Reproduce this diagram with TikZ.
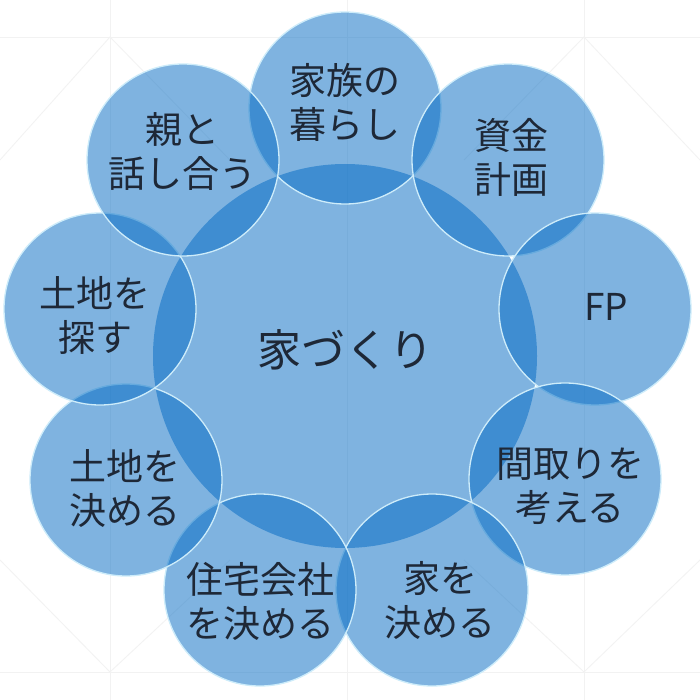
\documentclass[tikz,border=0pt]{standalone}
\usepackage{fontspec}
\setmainfont{Noto Sans CJK JP}
\begin{document}
\begin{tikzpicture}[x=1pt,y=-1pt,
  bub/.style={circle, inner sep=0pt, minimum size=192pt,
    fill={rgb,255:red,0;green,105;blue,195}, fill opacity=0.5,
    draw={rgb,255:red,205;green,236;blue,250}, line width=1.3pt,
    text={rgb,255:red,30;green,40;blue,55}, text opacity=1,
    font=\fontsize{37}{44}\selectfont, align=center},
  hub/.style={circle, inner sep=0pt, minimum size=384pt,
    fill={rgb,255:red,0;green,105;blue,195}, fill opacity=0.5,
    text={rgb,255:red,30;green,40;blue,55}, text opacity=1,
    font=\fontsize{44}{50}\selectfont},
  bg/.style={draw=black!5, line width=0.8pt}]
\useasboundingbox (0,0) rectangle (700,700);
\fill[white] (0,0) rectangle (700,700);
% faint background grid
\draw[bg] (110,0) -- (110,700);
\draw[bg] (347,0) -- (347,700);
\draw[bg] (584,0) -- (584,700);
\draw[bg] (0,37) -- (700,37);
\draw[bg] (0,672) -- (700,672);
\draw[bg] (0,160) -- (110,37) -- (230,160);
\draw[bg] (464,160) -- (584,37) -- (700,160);
\draw[bg] (0,560) -- (110,672) -- (230,560);
\draw[bg] (464,560) -- (584,672) -- (700,560);
% hub
\node[hub] (hub) at (345,356) {};
% outer bubbles
\node[bub] (kazoku) at (345,108) {};
\node[bub] (shikin) at (508,160) {};
\node[bub] (fp)     at (595,309) {};
\node[bub] (madori) at (565,479) {};
\node[bub] (ie)     at (432,590) {};
\node[bub] (jutaku) at (260,590) {};
\node[bub] (tkime)  at (126,480) {};
\node[bub] (tsaga)  at (100,309) {};
\node[bub] (oya)    at (183,160) {};
% texts
\tikzset{lbl/.style={text={rgb,255:red,30;green,40;blue,55}, font=\fontsize{37}{44}\selectfont, align=center, inner sep=0pt}}
\node[lbl,font=\fontsize{44}{50}\selectfont] (t0) at (345,350) {家づくり};
\node[lbl] (t1) at (345,102) {家族の\\暮らし};
\node[lbl] (t2) at (511,157) {資金\\計画};
\node[lbl] (t3) at (606,307) {FP};
\node[lbl] (t4) at (570,486) {間取りを\\考える};
\node[lbl] (t5) at (440,600) {家を\\決める};
\node[lbl] (t6) at (260,601) {住宅会社\\を決める};
\node[lbl] (t7) at (125,488) {土地を\\決める};
\node[lbl] (t8) at (95,315) {土地を\\探す};
\node[lbl] (t9) at (182,152) {親と\\話し合う};
\end{tikzpicture}
\end{document}
